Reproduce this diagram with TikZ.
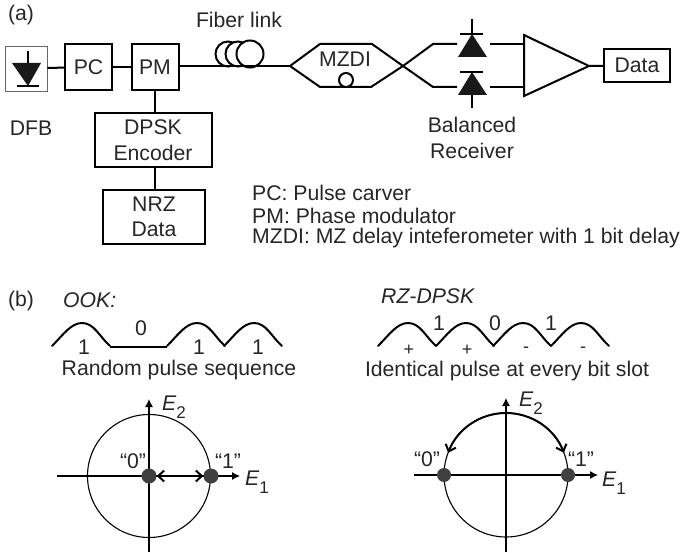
\documentclass[tikz,border=0pt]{standalone}
\usepackage{fontspec}
\setmainfont{Liberation Sans}
\usetikzlibrary{arrows.meta}
\newcommand{\labelfont}{\fontsize{21.2}{25.5}\selectfont}
\newcommand{\efield}[1]{\textit{E}\raisebox{-0.35em}{\fontsize{17}{17}\selectfont #1}}
\tikzset{
  lab/.style={font=\labelfont,inner sep=0pt,text=black!85},
  signlab/.style={font=\fontsize{18}{18}\selectfont,inner sep=0pt,text=black!85},
  blockbox/.style={draw,line width=2pt,lab,align=center},
  wire/.style={line width=2pt},
  axis/.style={line width=1.1pt,-{Latex[length=8pt,width=8pt]}},
  barb/.tip={Straight Barb[length=6pt,width=11pt]},
  pulse/.pic={\draw[wire,line cap=round] (0,0) .. controls (11,-11) and (19,-23) .. (30,-23) .. controls (42,-23) and (47,-10) .. (58,0);}
}
\begin{document}
\begin{tikzpicture}[x=1pt,y=-1pt]
  \useasboundingbox (0,0) rectangle (685,553);
  % (a) transmitter
  \node[lab] (labela) at (21,15) {(a)};
  \node[draw=black!60,line width=0.7pt,minimum width=42pt,minimum height=45pt] (dfb) at (26,68.5) {};
  \node[blockbox,minimum width=47pt,minimum height=46pt] (pc) at (88.5,67) {PC};
  \node[blockbox,minimum width=47pt,minimum height=46pt] (pm) at (155,67) {PM};
  \node[blockbox,minimum width=117pt,minimum height=54pt] (enc) at (153,140) {DPSK\\Encoder};
  \node[blockbox,minimum width=102pt,minimum height=54pt] (nrz) at (154,217) {NRZ\\Data};
  \node[lab] (dfblab) at (31,128) {DFB};
  \draw[wire] (dfb) -- (pc);
  \draw[wire] (pc) -- (pm);
  \draw[wire] (pm) -- (pm |- enc.north);
  \draw[wire] (enc.south -| pm) -- (nrz.north -| pm);
  \draw[line width=2.2pt] (28,51) -- (28,64);
  \fill[black!90] (12,63) -- (41,63) -- (28,86) -- cycle;
  \draw[line width=2pt] (17,86) -- (39,86);
  % fiber
  \node[lab] (fiberlab) at (239,20) {Fiber link};
  \draw[wire,fill=white] (228,54) circle (12.5);
  \draw[wire,fill=white] (238,54) circle (12.5);
  \draw[wire,fill=white] (250,54) circle (13.5);
  \coordinate (mzleft) at (290,66);
  \coordinate (mzright) at (403,66);
  \draw[wire] (pm.east |- mzleft) -- (mzleft);
  % interferometer
  \draw[wire] (mzleft) -- (320,44) -- (372,44) -- (mzright) -- (371,87) -- (320,87) -- cycle;
  \node[lab] (mzdi) at (345,59) {MZDI};
  \draw[wire,fill=white] (346,80) circle (7);
  \draw[wire] (320,87) -- (371,87);
  % balanced receiver
  \draw[wire] (mzright) -- (433,44) -- (457,44);
  \draw[wire] (mzright) -- (433,87) -- (457,87);
  \draw[wire] (490,44) -- (523,44);
  \draw[wire] (490,87) -- (523,87);
  \fill[black!90] (472,34) -- (458,57) -- (487,57) -- cycle;
  \fill[black!90] (472,72) -- (458,95) -- (487,95) -- cycle;
  \draw[wire] (460,34) -- (483,34);
  \draw[wire] (460,72) -- (483,72);
  \draw[line width=2pt] (472,19) -- (472,34);
  \draw[line width=2pt] (472,95) -- (472,108);
  \coordinate (amptip) at (589,66);
  \draw[wire] (524,35) -- (amptip) -- (524,96) -- cycle;
  \node[blockbox,minimum width=66pt,minimum height=33pt] (data) at (637,65.5) {Data};
  \draw[wire] (amptip) -- (data);
  \node[lab,align=center] (rx) at (472,138) {Balanced\\Receiver};
  % legend
  \node[lab,anchor=west] (leg1) at (252,193) {PC: Pulse carver};
  \node[lab,anchor=west] (leg2) at (252,216) {PM: Phase modulator};
  \node[lab,anchor=west] (leg3) at (252,238) {MZDI: MZ delay inteferometer with 1 bit delay};
  % (b) OOK
  \node[lab] (labelb) at (21,301) {(b)};
  \node[lab,anchor=west,font=\labelfont\itshape] (ook) at (63,300) {OOK:};
  \foreach \x in {52,167,224}
    \pic at (\x,346) {pulse};
  \draw[wire] (110,347) -- (167,347);
  \node[lab] (ook1) at (84,347) {1};
  \node[lab] (ook2) at (141,328) {0};
  \node[lab] (ook3) at (199,347) {1};
  \node[lab] (ook4) at (258,347) {1};
  \node[lab] (ookcap) at (179,370) {Random pulse sequence};
  \coordinate (ookc) at (149,476);
  \draw[line width=1.1pt] (ookc) circle (61.5);
  \draw[axis] (57,476) -- (240,476);
  \draw[axis] (149,552) -- (149,399);
  \node[circle,fill=black!75,minimum size=15pt,inner sep=0pt] (ookzero) at (ookc) {};
  \node[circle,fill=black!75,minimum size=15pt,inner sep=0pt] (ookone) at (211,476) {};
  \draw[wire,barb-barb] (ookzero) -- (ookone);
  \node[lab] (ookz) at (133,461) {“0”};
  \node[lab] (ooko) at (228,461) {“1”};
  \node[lab] (ooke2) at (174,407) {\efield{2}};
  \node[lab] (ooke1) at (257,482) {\efield{1}};
  % (b) RZ-DPSK
  \node[lab,anchor=west,font=\labelfont\itshape] (rz) at (381,296) {RZ-DPSK};
  \foreach \x in {378,436,493,551}
    \pic at (\x,346) {pulse};
  \node[lab] (rz1) at (439,323) {1};
  \node[lab] (rz2) at (495,323) {0};
  \node[lab] (rz3) at (551,323) {1};
  \node[signlab] (rzs1) at (409,350) {+};
  \node[signlab] (rzs2) at (467,350) {+};
  \node[signlab] (rzs3) at (526,350) {-};
  \node[signlab] (rzs4) at (583,350) {-};
  \node[lab] (rzcap) at (507,371) {Identical pulse at every bit slot};
  \coordinate (rzc) at (506,475);
  \draw[line width=1.1pt] (rzc) circle (62);
  \draw[axis] (414,475) -- (598,475);
  \draw[axis] (506,552) -- (506,398);
  \node[circle,fill=black!75,minimum size=14pt,inner sep=0pt] (rzzero) at (444,475) {};
  \node[circle,fill=black!75,minimum size=14pt,inner sep=0pt] (rzone) at (568,475) {};
  \draw[wire,-barb] (506,413) arc[start angle=-90,end angle=-159,radius=62];
  \draw[wire,-barb] (506,413) arc[start angle=-90,end angle=-21,radius=62];
  \node[lab] (rzz) at (427,459) {“0”};
  \node[lab] (rzo) at (581,459) {“1”};
  \node[lab] (rze2) at (531,403) {\efield{2}};
  \node[lab] (rze1) at (614,483) {\efield{1}};
\end{tikzpicture}
\end{document}
